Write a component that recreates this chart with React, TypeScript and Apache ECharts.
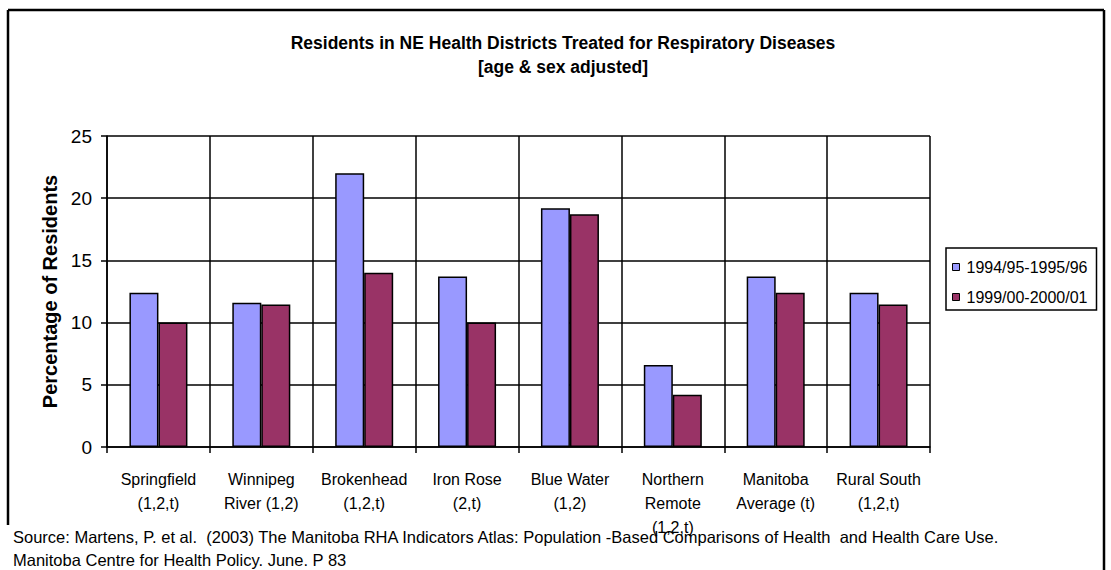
import React, { useEffect, useRef } from "react";
import * as echarts from "echarts";

const categories = [
  "Springfield\n(1,2,t)",
  "Winnipeg\nRiver (1,2)",
  "Brokenhead\n(1,2,t)",
  "Iron Rose\n(2,t)",
  "Blue Water\n(1,2)",
  "Northern\nRemote\n(1,2,t)",
  "Manitoba\nAverage (t)",
  "Rural South\n(1,2,t)",
];
const period1Name = "1994/95-1995/96";
const period2Name = "1999/00-2000/01";
const period1Values = [12.4, 11.6, 22.0, 13.7, 19.2, 6.6, 13.7, 12.4];
const period2Values = [10.0, 11.45, 14.0, 10.0, 18.7, 4.2, 12.4, 11.45];
const yTicks = { min: 0, max: 25, interval: 5 };

const titleLines = [
  "Residents in NE Health Districts Treated for Respiratory Diseases",
  "[age & sex adjusted]",
];
const sourceLines = [
  "Source: Martens, P. et al.  (2003) The Manitoba RHA Indicators Atlas: Population -Based Comparisons of Health  and Health Care Use.",
  "Manitoba Centre for Health Policy. June. P 83",
];

const FONT = "'Liberation Sans', Arial, sans-serif";

export default function App() {
  const ref = useRef<HTMLDivElement>(null);

  useEffect(() => {
    if (!ref.current) return;
    const chart = echarts.init(ref.current, null, { renderer: "svg" });
    chart.setOption({
      animation: false,
      backgroundColor: "#ffffff",
      textStyle: { fontFamily: FONT, color: "#000" },
      title: {
        text: titleLines.join("\n"),
        left: 558,
        textAlign: "center",
        top: 26,
        textStyle: {
          fontFamily: FONT,
          fontSize: 17.5,
          fontWeight: "bold",
          color: "#000",
          lineHeight: 24,
        },
      },
      legend: {
        orient: "vertical",
        left: 946,
        top: 248,
        padding: [10, 9, 4, 6],
        itemGap: 12,
        itemWidth: 7,
        itemHeight: 7,
        borderColor: "#000",
        borderWidth: 1.5,
        icon: "rect",
        itemStyle: { borderColor: "#000", borderWidth: 1 },
        textStyle: {
          fontFamily: FONT,
          fontSize: 16,
          lineHeight: 18,
          color: "#000",
          padding: [0, 0, 0, 2],
        },
        data: [period1Name, period2Name],
      },
      grid: { left: 107, right: 181, top: 136, bottom: 123, containLabel: false },
      xAxis: {
        type: "category",
        data: categories,
        axisLine: { lineStyle: { color: "#000", width: 1.5 } },
        axisTick: { show: true, length: 6, lineStyle: { color: "#000", width: 1.5 } },
        splitLine: { show: true, lineStyle: { color: "#000", width: 1.5 } },
        axisLabel: {
          interval: 0,
          margin: 20,
          fontFamily: FONT,
          fontSize: 16,
          lineHeight: 24,
          color: "#000",
        },
      },
      yAxis: {
        type: "value",
        min: yTicks.min,
        max: yTicks.max,
        interval: yTicks.interval,
        name: "Percentage of Residents",
        nameLocation: "middle",
        nameGap: 47,
        nameTextStyle: { fontFamily: FONT, fontSize: 20, fontWeight: "bold", color: "#000" },
        axisLine: { show: true, lineStyle: { color: "#000", width: 1.5 } },
        axisTick: { show: true, length: 6, lineStyle: { color: "#000", width: 1.5 } },
        splitLine: { show: true, lineStyle: { color: "#000", width: 1.5 } },
        axisLabel: { fontFamily: FONT, fontSize: 19, color: "#000", margin: 15 },
      },
      series: [
        {
          name: period1Name,
          type: "bar",
          data: period1Values,
          barWidth: 29,
          barGap: "0%",
          itemStyle: { color: "#9999FF", borderColor: "#000", borderWidth: 1.5 },
        },
        {
          name: period2Name,
          type: "bar",
          data: period2Values,
          barWidth: 29,
          barGap: "0%",
          itemStyle: { color: "#993366", borderColor: "#000", borderWidth: 1.5 },
        },
      ],
      graphic: [
        { type: "line", shape: { x1: 8, y1: 10, x2: 1104, y2: 10 }, style: { stroke: "#000", lineWidth: 2.5 } },
        { type: "line", shape: { x1: 8, y1: 10, x2: 8, y2: 525 }, style: { stroke: "#000", lineWidth: 2.5 } },
        { type: "line", shape: { x1: 1104, y1: 10, x2: 1104, y2: 570 }, style: { stroke: "#000", lineWidth: 2.5 } },
        {
          type: "text",
          left: 13,
          top: 525,
          style: {
            text: sourceLines.join("\n"),
            fontFamily: FONT,
            fontSize: 16.5,
            lineHeight: 23,
            fill: "#000",
          },
        },
      ],
    });
    return () => chart.dispose();
  }, []);

  return (
    <div
      ref={ref}
      style={{ position: "fixed", left: 0, top: 0, width: 1111, height: 570 }}
    />
  );
}
